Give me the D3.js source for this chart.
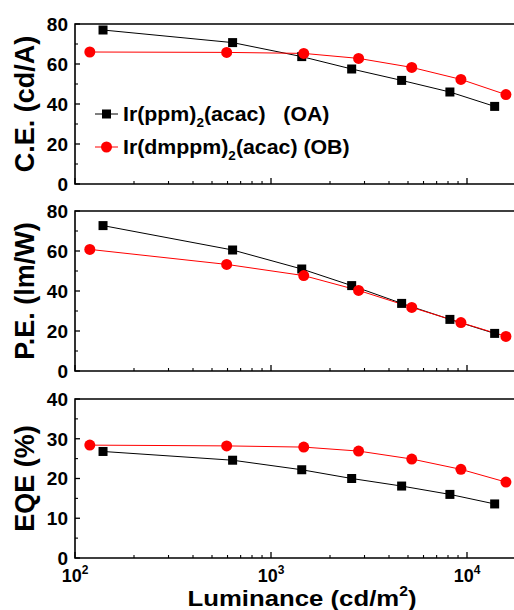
<!DOCTYPE html>
<html>
<head>
<meta charset="utf-8">
<script src="https://cdn.jsdelivr.net/npm/d3@7"></script>
<style>
  html, body { margin: 0; padding: 0; background: #fff; }
  svg { display: block; }
  text { font-family: "Liberation Sans", Arial, sans-serif; font-weight: bold; fill: #000; }
</style>
</head>
<body>
<div id="chart"></div>
<script>
// Luminance (cd/m^2) for each device
const lumOA = [139, 637, 1435, 2580, 4640, 8180, 13840];
const lumOB = [119, 594, 1469, 2798, 5225, 9310, 15800];

// Current efficiency (cd/A)
const ceOA = [77.0, 70.7, 63.7, 57.5, 51.8, 46.0, 38.8];
const ceOB = [66.0, 65.8, 65.3, 62.8, 58.3, 52.3, 44.7];

// Power efficiency (lm/W)
const peOA = [72.7, 60.5, 51.0, 42.7, 33.8, 25.8, 18.8];
const peOB = [60.8, 53.3, 47.7, 40.3, 31.8, 24.2, 17.3];

// External quantum efficiency (%)
const eqeOA = [26.8, 24.6, 22.2, 20.0, 18.1, 16.0, 13.6];
const eqeOB = [28.4, 28.2, 27.9, 26.9, 24.9, 22.3, 19.1];

const xTickValues = [100, 1000, 10000];
const xTickExps = ["2", "3", "4"];

const W = 514, H = 610;
const svg = d3.select("#chart").append("svg").attr("width", W).attr("height", H);

const x = d3.scaleLog().domain([100, 20000]).range([75, 526]);

const panels = [
  { title: "C.E. (cd/A)", top: 24, bottom: 184, max: 80, major: 20, minor: 10, oa: ceOA, ob: ceOB },
  { title: "P.E. (lm/W)", top: 211, bottom: 371, max: 80, major: 20, minor: 10, oa: peOA, ob: peOB },
  { title: "EQE (%)", top: 399, bottom: 558, max: 40, major: 10, minor: 5, oa: eqeOA, ob: eqeOB }
];

// minor decade ticks on the log axis
const minorX = [];
for (let d = 100; d < 20000; d *= 10) {
  for (let k = 2; k <= 9; k++) if (d * k <= 20000) minorX.push(d * k);
}

panels.forEach((p, i) => {
  const y = d3.scaleLinear().domain([0, p.max]).range([p.bottom, p.top]);
  const g = svg.append("g");

  // frame
  g.append("path")
    .attr("d", `M${x.range()[1]},${p.top}H${x.range()[0]}V${p.bottom}H${x.range()[1]}`)
    .attr("fill", "none").attr("stroke", "#000").attr("stroke-width", 1.6);

  // y ticks (inward)
  g.selectAll(".ymaj").data(d3.range(0, p.max + 0.001, p.major)).join("line")
    .attr("x1", x.range()[0]).attr("x2", x.range()[0] + 5)
    .attr("y1", d => y(d)).attr("y2", d => y(d))
    .attr("stroke", "#000").attr("stroke-width", 1.3);
  g.selectAll(".ymin").data(d3.range(p.minor, p.max, p.major)).join("line")
    .attr("x1", x.range()[0]).attr("x2", x.range()[0] + 3)
    .attr("y1", d => y(d)).attr("y2", d => y(d))
    .attr("stroke", "#000").attr("stroke-width", 1.1);
  g.selectAll(".ylab").data(d3.range(0, p.max + 0.001, p.major)).join("text")
    .attr("x", 68).attr("y", d => y(d)).attr("dy", "0.36em")
    .attr("text-anchor", "end").attr("font-size", 19)
    .text(d => d);

  // x ticks (inward)
  g.selectAll(".xmaj").data(xTickValues).join("line")
    .attr("x1", d => x(d)).attr("x2", d => x(d))
    .attr("y1", p.bottom).attr("y2", p.bottom - 6)
    .attr("stroke", "#000").attr("stroke-width", 1.3);
  g.selectAll(".xmin").data(minorX).join("line")
    .attr("x1", d => x(d)).attr("x2", d => x(d))
    .attr("y1", p.bottom).attr("y2", p.bottom - 3)
    .attr("stroke", "#000").attr("stroke-width", 1.1);

  // y title
  g.append("text")
    .attr("transform", `translate(${34},${(p.top + p.bottom) / 2}) rotate(-90)`)
    .attr("text-anchor", "middle").attr("font-size", 27)
    .text(p.title);

  // series
  const line = d3.line().x(d => x(d[0])).y(d => y(d[1]));
  const oaPts = lumOA.map((l, j) => [l, p.oa[j]]);
  const obPts = lumOB.map((l, j) => [l, p.ob[j]]);

  g.append("path").datum(oaPts).attr("d", line)
    .attr("fill", "none").attr("stroke", "#000").attr("stroke-width", 1);
  g.append("path").datum(obPts).attr("d", line)
    .attr("fill", "none").attr("stroke", "#ff0000").attr("stroke-width", 1);

  g.selectAll(".sq").data(oaPts).join("rect")
    .attr("x", d => x(d[0]) - 4.5).attr("y", d => y(d[1]) - 4.5)
    .attr("width", 9).attr("height", 9).attr("fill", "#000");
  g.selectAll(".ci").data(obPts).join("circle")
    .attr("cx", d => x(d[0])).attr("cy", d => y(d[1])).attr("r", 5.5)
    .attr("fill", "#ff0000");

  // x tick labels on the bottom panel only
  if (i === panels.length - 1) {
    const lab = g.selectAll(".xlab").data(xTickValues).join("text")
      .attr("x", d => x(d)).attr("y", p.bottom + 24)
      .attr("text-anchor", "middle").attr("font-size", 18);
    lab.append("tspan").text("10");
    lab.append("tspan").attr("dy", -8).attr("font-size", 12).text((d, j) => xTickExps[j]);

    const t = svg.append("text")
      .attr("transform", "translate(302,606) scale(1.12,1)")
      .attr("text-anchor", "middle").attr("font-size", 23);
    t.append("tspan").text("Luminance (cd/m");
    t.append("tspan").attr("dy", -10).attr("font-size", 14).text("2");
    t.append("tspan").attr("dy", 10).text(")");
  }
});

// legend in the top panel
const legend = [
  { name: "Ir(ppm)", tail: "(acac)   (OA)", color: "#000", shape: "square", y: 114 },
  { name: "Ir(dmppm)", tail: "(acac) (OB)", color: "#ff0000", shape: "circle", y: 147 }
];
legend.forEach(l => {
  svg.append("line").attr("x1", 95).attr("x2", 118).attr("y1", l.y).attr("y2", l.y)
    .attr("stroke", l.color).attr("stroke-width", 1);
  if (l.shape === "square") {
    svg.append("rect").attr("x", 106.5 - 4.5).attr("y", l.y - 4.5).attr("width", 9).attr("height", 9).attr("fill", l.color);
  } else {
    svg.append("circle").attr("cx", 106.5).attr("cy", l.y).attr("r", 5.5).attr("fill", l.color);
  }
  const t = svg.append("text")
    .attr("transform", `translate(123,${l.y + 7}) scale(1.04,1)`)
    .attr("font-size", 20.5);
  t.append("tspan").text(l.name);
  t.append("tspan").attr("dy", 6).attr("font-size", 13).text("2");
  t.append("tspan").attr("dy", -6).text(l.tail).attr("xml:space", "preserve");
});
</script>
</body>
</html>
